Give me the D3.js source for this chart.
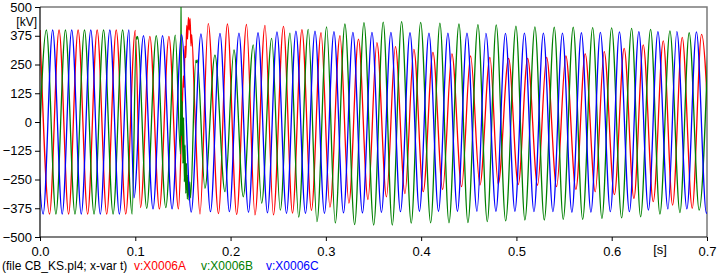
<!DOCTYPE html>
<html><head><meta charset="utf-8">
<script src="https://cdn.jsdelivr.net/npm/d3@7"></script>
<style>body{margin:0;background:#fff}svg{display:block}</style>
</head><body>
<svg id="c" width="720" height="275"></svg>
<script>
const timeTicks = [0, 0.1, 0.2, 0.3, 0.4, 0.5, 0.6, 0.7];
const timeTickLabels = ["0.0", "0.1", "0.2", "0.3", "0.4", "0.5", "0.6", "0.7"];
const voltTicks = [-500, -375, -250, -125, 0, 125, 250, 375, 500];
const seriesNames = ["v:X0006A", "v:X0006B", "v:X0006C"];
const fileLabel = "(file CB_KS.pl4; x-var t)";
const yUnit = "[kV]";
const xUnit = "[s]";

// extrema (time s, kV), phase A (red)
const phaseA = [[0,400],[0.01,-400],[0.02,400],[0.03,-400],[0.04,400],[0.05,-400],[0.06,400],[0.07,-400],[0.08,400],[0.09,-400],[0.1,398],
[0.1055,-372],[0.1153,372],[0.1253,-378],[0.1353,372],[0.1453,-378],
[0.1490,20],[0.1505,200],[0.1512,150],[0.1522,330],[0.1530,280],[0.1540,420],[0.1548,360],[0.1558,455],[0.1566,400],[0.1575,450],[0.1585,330],[0.1592,380],[0.1625,50],
[0.1679,-400],[0.1766,428],[0.1873,-398],[0.1967,426],[0.2064,-402],[0.2167,424],[0.2256,-404],[0.2361,420],[0.2450,-404],[0.2555,416],[0.2650,-396],[0.2749,402],[0.2849,-384],[0.2949,388],[0.3043,-370],[0.3148,375],[0.3242,-353],[0.3342,360],[0.3442,-337],[0.3536,345],[0.3636,-325],[0.3730,328],[0.3830,-311],[0.3924,316],[0.4022,-303],[0.4124,303],[0.4226,-293],[0.4323,296],[0.4425,-281],[0.4519,287],[0.4617,-274],[0.4722,281],[0.4809,-270],[0.4918,277],[0.5019,-272],[0.5118,277],[0.5222,-275],[0.5317,281],[0.5422,-281],[0.5519,287],[0.5624,-293],[0.5722,296],[0.5827,-303],[0.5921,306],[0.6028,-316],[0.6131,320],[0.6233,-332],[0.6331,335],[0.6436,-346],[0.6541,353],[0.6639,-361],[0.6740,368],[0.6845,-375],[0.6943,381],[0.7051,-388]];

// phase B (green)
const phaseB = [[-0.0033,-400],[0.0067,400],[0.0167,-400],[0.0267,400],[0.0367,-400],[0.0467,400],[0.0567,-400],[0.0667,400],[0.0767,-400],[0.0867,400],[0.0967,-400],
[0.1010,370],[0.1017,360],[0.1024,372],[0.1120,-375],[0.1220,375],[0.1320,-372],[0.1420,378],
[0.1475,-140],[0.1480,560],[0.1485,-60],[0.1492,90],[0.1500,-180],[0.1507,20],[0.1515,-260],[0.1522,-100],[0.1530,-310],[0.1538,-180],[0.1546,-335],[0.1555,-230],[0.1563,-340],[0.1572,-260],[0.1580,-330],
[0.1635,268],[0.1642,258],[0.1650,270],
[0.1731,-288],[0.1836,291],[0.1941,-303],[0.2036,313],[0.2133,-325],[0.2238,335],[0.2326,-353],[0.2431,364],[0.2522,-383],[0.2623,386],[0.2715,-413],[0.2815,403],[0.2907,-433],[0.3008,414],[0.3099,-439],[0.3200,426],[0.3302,-446],[0.3400,432],[0.3502,-448],[0.3602,434],[0.3697,-448],[0.3795,436],[0.3896,-440],[0.3995,433],[0.4100,-438],[0.4197,430],[0.4292,-438],[0.4397,426],[0.4491,-437],[0.4596,423],[0.4694,-433],[0.4788,422],[0.4887,-430],[0.4995,417],[0.5089,-426],[0.5194,414],[0.5292,-426],[0.5397,412],[0.5491,-423],[0.5596,412],[0.5695,-423],[0.5800,410],[0.5897,-419],[0.5999,409],[0.6104,-417],[0.6209,407],[0.6303,-412],[0.6408,403],[0.6506,-400],[0.6611,396],[0.6716,-394],[0.6813,388],[0.6918,-383],[0.7015,385]];

// phase C (blue)
const phaseC = [[-0.0067,400],[0.0033,-400],[0.0133,400],[0.0233,-400],[0.0333,400],[0.0433,-400],[0.0533,400],[0.0633,-400],[0.0733,400],[0.0833,-400],[0.0933,400],
[0.0986,-330],[0.1086,375],[0.1186,-378],[0.1286,375],[0.1386,-378],[0.1486,380],[0.1587,-392],
[0.1689,383],[0.1789,-390],[0.1889,385],[0.1988,-390],[0.2088,386],[0.2188,-392],[0.2288,388],[0.2387,-395],[0.2487,392],[0.2587,-397],[0.2686,395],[0.2786,-397],[0.2886,395],[0.2985,-397],[0.3085,393],[0.3185,-395],[0.3284,390],[0.3384,-395],[0.3484,390],[0.3583,-393],[0.3683,390],[0.3783,-390],[0.3883,388],[0.3982,-388],[0.4082,386],[0.4182,-388],[0.4281,386],[0.4381,-388],[0.4481,386],[0.4586,-388],[0.4680,385],[0.4785,-388],[0.4885,385],[0.4984,-388],[0.5084,386],[0.5184,-390],[0.5283,386],[0.5383,-390],[0.5483,386],[0.5582,-392],[0.5682,388],[0.5782,-392],[0.5881,390],[0.5986,-390],[0.6081,392],[0.6186,-390],[0.6285,393],[0.6385,-383],[0.6485,393],[0.6590,-378],[0.6684,393],[0.6789,-378],[0.6889,392],[0.6994,-397],[0.7088,392]];

const seriesData = [phaseA, phaseB, phaseC];
const seriesColors = ["#ff0000", "#008000", "#0000ff"];

(function draw() {
  const svg = d3.select("#c");
  const pL = 40, pR = 707, pT = 7, pB = 237;
  const x = d3.scaleLinear().domain([0, 0.7]).range([pL, pR]);
  const y = d3.scaleLinear().domain([-500, 500]).range([pB, pT]);
  const font = "'Liberation Sans', Arial, sans-serif";

  svg.append("defs").append("clipPath").attr("id", "clip")
    .append("rect").attr("x", pL).attr("y", pT).attr("width", pR - pL).attr("height", pB - pT);

  svg.append("path")
    .attr("d", `M${pL},${pT}H${pR}V${pB}`)
    .attr("fill", "none").attr("stroke", "#7a7a7a").attr("stroke-width", 1.5);

  const line = d3.line().x(d => x(d[0])).y(d => y(d[1])).curve(d3.curveMonotoneX);
  const g = svg.append("g").attr("clip-path", "url(#clip)");
  seriesData.forEach((s, i) => {
    g.append("path").datum(s).attr("d", line)
      .attr("fill", "none").attr("stroke", seriesColors[i]).attr("stroke-width", 1.3)
      .attr("stroke-linejoin", "round");
  });

  const yAxis = d3.axisLeft(y).tickValues(voltTicks).tickSize(5).tickPadding(3).tickFormat(d3.format("d"));
  const ya = svg.append("g").attr("transform", `translate(${pL},0)`).call(yAxis);
  const xAxis = d3.axisBottom(x).tickValues(timeTicks).tickSize(4).tickPadding(6).tickFormat((d, i) => timeTickLabels[i]);
  const xa = svg.append("g").attr("transform", `translate(0,${pB})`).call(xAxis);
  [ya, xa].forEach(a => {
    a.select(".domain").attr("stroke", "#000").attr("stroke-width", 1.2);
    a.selectAll(".tick line").attr("stroke", "#000");
    a.selectAll("text").attr("font-family", font).attr("font-size", 13).attr("fill", "#000");
  });
  ya.select(".domain").attr("d", `M0,${pT}V${pB}`);
  xa.select(".domain").attr("d", `M${pL},0H${pR}`);

  svg.append("text").attr("x", 37).attr("y", 26).attr("text-anchor", "end")
    .attr("font-family", font).attr("font-size", 12).text(yUnit);
  svg.append("text").attr("x", 660).attr("y", 253.5).attr("text-anchor", "middle")
    .attr("font-family", font).attr("font-size", 13).text(xUnit);

  svg.append("text").attr("x", 2).attr("y", 270)
    .attr("font-family", font).attr("font-size", 12).attr("fill", "#000").text(fileLabel);
  const footerX = [134, 201, 266];
  seriesNames.forEach((n, i) => {
    svg.append("text").attr("x", footerX[i]).attr("y", 270)
      .attr("font-family", font).attr("font-size", 12).attr("fill", seriesColors[i]).text(n);
  });
})();
</script>
</body></html>
